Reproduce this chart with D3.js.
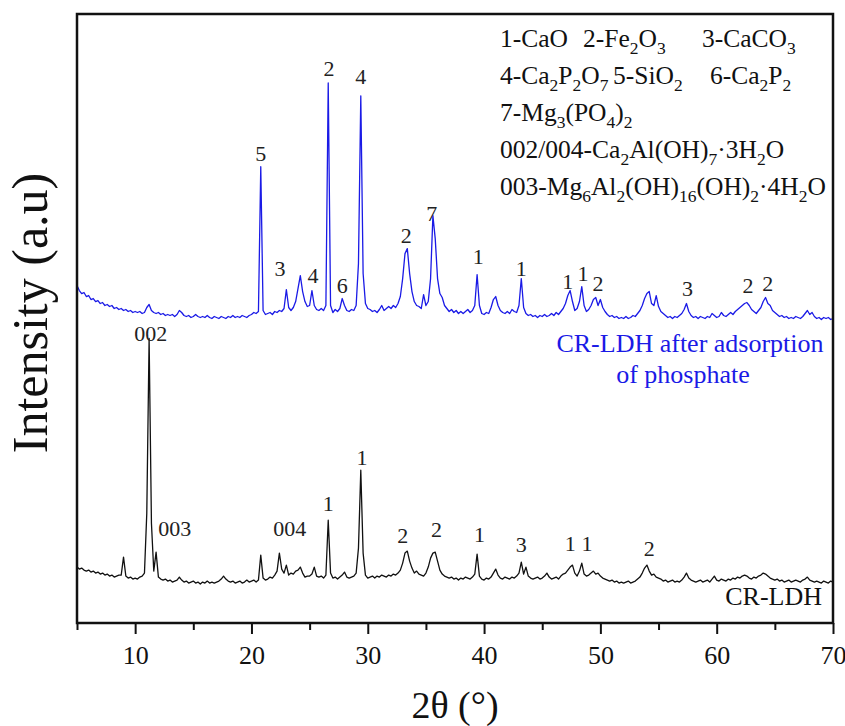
<!DOCTYPE html>
<html><head><meta charset="utf-8">
<script src="https://cdn.jsdelivr.net/npm/d3@7/dist/d3.min.js"></script>
<style>body{margin:0;background:#fff}svg{display:block}</style>
</head><body>
<svg id="chart" width="845" height="726"></svg>
<script>
// ---- data ----
const angleStart = 5;
const angleStep = 0.2;
// CR-LDH after adsorption of phosphate (blue), 5.0 .. 70.0 deg, step 0.2
const blueIntensity = [
338,333,330,331,327,328,324,325,322,323,
320,321,318,319,317,318,315,316,314,315,
313,314,312,313,311,312,311,312,310,311,
316,319,313,311,310,311,309,310,308,309,
308,309,307,309,313,311,308,307,308,306,
307,309,307,306,307,306,308,306,305,307,
306,305,307,306,305,307,306,308,306,307,
306,308,307,306,308,309,311,310,312,457,
313,309,310,311,309,312,311,313,312,315,
334,316,313,316,322,335,348,332,322,317,
318,333,318,314,313,315,313,318,541,318,
311,314,312,315,325,318,313,312,314,313,
318,360,528,350,320,315,314,312,313,311,
314,318,313,315,317,315,318,316,320,327,
345,370,375,350,332,322,318,317,315,329,
318,322,345,408,385,345,330,326,318,315,
312,314,311,313,310,312,310,312,314,311,
313,318,349,318,310,309,311,310,316,324,
327,318,313,311,310,312,310,314,312,311,
318,345,316,310,308,309,307,308,306,308,
307,309,307,308,310,308,311,309,312,315,
320,328,333,322,313,315,322,337,318,312,
314,318,324,326,318,324,316,312,309,307,
308,306,307,305,306,305,307,305,306,308,
307,310,313,318,325,330,332,320,318,328,
317,312,310,308,306,307,305,307,306,308,
310,314,320,312,308,306,307,305,307,306,
305,307,306,310,308,306,307,311,308,307,
309,311,309,312,314,316,318,320,321,318,
314,312,310,313,316,322,326,320,318,313,
311,309,307,308,306,307,305,306,305,307,
306,305,307,310,313,309,311,307,305,306,
304,306,305,306,304,305
];
// CR-LDH (black), 5.0 .. 70.0 deg, step 0.2
const blackIntensity = [
56,54,55,53,52,53,51,52,50,51,
49,50,48,49,47,48,46,47,48,48,
66,47,45,46,44,45,44,46,47,50,
110,285,100,52,71,46,44,43,44,42,
43,41,42,43,46,43,41,42,40,41,
42,40,41,39,41,40,42,40,41,40,
41,42,44,47,44,42,41,42,40,41,
42,40,41,43,41,42,43,41,43,68,
45,43,44,46,45,48,52,70,54,50,
58,48,50,49,52,53,56,50,46,47,
47,49,56,47,46,47,45,48,103,50,
45,46,44,46,48,51,46,45,46,47,
50,75,153,70,48,45,46,47,45,47,
46,48,47,46,48,47,49,48,50,53,
60,70,72,62,55,50,52,49,48,47,
50,56,65,70,71,62,53,49,47,46,
45,46,44,45,43,45,44,46,45,44,
46,49,69,47,44,43,45,44,46,50,
54,48,45,44,46,45,44,46,45,47,
50,61,49,56,47,45,44,45,46,44,
45,47,50,46,44,45,46,44,47,49,
50,53,56,58,50,47,52,60,49,47,
48,50,52,49,50,47,45,44,43,42,
43,41,42,40,41,40,41,42,40,41,
42,44,46,50,55,58,52,48,49,46,
45,44,42,43,41,42,43,41,42,41,
43,46,50,45,43,42,41,42,43,41,
42,43,41,44,47,43,42,44,43,42,
44,43,45,44,46,45,47,48,47,45,
44,46,45,47,48,50,49,47,45,44,
43,44,42,43,41,42,43,41,42,43,
42,41,43,44,46,43,42,41,42,41,
40,42,41,40,42,41
];
// peak labels: [2theta, intensity level of label baseline, text]
const bluePeakLabels = [
  [20.8,463,"5"],[22.45,348,"3"],[25.3,341,"4"],[26.67,548,"2"],[27.8,331,"6"],
  [29.4,540,"4"],[33.3,381,"2"],[35.5,403,"7"],[39.5,360,"1"],[43.2,348,"1"],
  [47.2,335,"1"],[48.5,343,"1"],[49.8,333,"2"],[57.5,328,"3"],[62.7,331,"2"],[64.4,333,"2"]
];
const blackPeakLabels = [
  [11.35,282,"002"],[13.4,87,"003"],[23.3,87,"004"],[26.6,112,"1"],[29.5,158,"1"],
  [33.0,80,"2"],[35.9,86,"2"],[39.6,81,"1"],[43.2,71,"3"],[47.4,72,"1"],
  [48.85,72,"1"],[54.2,67,"2"]
];
const xMajorTicks = [10,20,30,40,50,60,70];
const xMinorTicks = [5,15,25,35,45,55,65];
const legendRows = [
  ["1-CaO","2-Fe_2O_3","3-CaCO_3"],
  ["4-Ca_2P_2O_7","5-SiO_2","6-Ca_2P_2"],
  ["7-Mg_3(PO_4)_2"],
  ["002/004-Ca_2Al(OH)_7·3H_2O"],
  ["003-Mg_6Al_2(OH)_16(OH)_2·4H_2O"]
];
const blueSeriesName = ["CR-LDH after adsorption","of phosphate"];
const blackSeriesName = "CR-LDH";
const xTitle = "2θ (°)";
const yTitle = "Intensity (a.u)";

// ---- drawing ----
const m = {left:77, right:833, top:14, bottom:623};
const svg = d3.select("#chart");
const FONT = "'Liberation Serif','Times New Roman',serif";
const BLUE = "#1a1ae6";

const x = d3.scaleLinear().domain([5,70]).range([m.left, m.right]);
const y = d3.scaleLinear().domain([0,610]).range([m.bottom, m.top]);

const line = d3.line()
  .x((d,i)=>x(angleStart + i*angleStep))
  .y(d=>y(d));

svg.append("path").datum(blackIntensity).attr("d", line)
  .attr("fill","none").attr("stroke","#111").attr("stroke-width",1.3).attr("stroke-linejoin","round");
svg.append("path").datum(blueIntensity).attr("d", line)
  .attr("fill","none").attr("stroke",BLUE).attr("stroke-width",1.3).attr("stroke-linejoin","round");

// frame
svg.append("rect").attr("x",m.left).attr("y",m.top)
  .attr("width",m.right-m.left).attr("height",m.bottom-m.top)
  .attr("fill","none").attr("stroke","#111").attr("stroke-width",2.5);

// x axis
const ax = d3.axisBottom(x).tickValues(xMajorTicks).tickSize(11).tickFormat(d3.format("d"));
const gx = svg.append("g").attr("transform",`translate(0,${m.bottom})`).call(ax);
gx.attr("font-family",null).attr("font-size",null);
gx.select(".domain").remove();
gx.selectAll(".tick line").attr("stroke","#111").attr("stroke-width",2);
gx.selectAll(".tick text").style("font-family",FONT).style("font-size","26px")
  .attr("fill","#111").attr("dy",0).attr("y",41);
const axm = d3.axisBottom(x).tickValues(xMinorTicks).tickSize(7).tickFormat("");
const gxm = svg.append("g").attr("transform",`translate(0,${m.bottom})`).call(axm);
gxm.select(".domain").remove();
gxm.selectAll(".tick text").remove();
gxm.selectAll(".tick line").attr("stroke","#111").attr("stroke-width",2);

// axis titles
svg.append("text").attr("x",(m.left+m.right)/2).attr("y",718).attr("text-anchor","middle")
  .style("font-family",FONT).style("font-size","38px").attr("fill","#111").text(xTitle);
svg.append("text").attr("transform","translate(47,313) rotate(-90)").attr("text-anchor","middle")
  .style("font-family",FONT).style("font-size","50px").attr("fill","#111").text(yTitle);

// peak labels
function peakLabels(arr){
  svg.append("g").selectAll("text").data(arr).join("text")
    .attr("x",d=>x(d[0])).attr("y",d=>y(d[1])).attr("text-anchor","middle")
    .style("font-family",FONT).style("font-size","22px").attr("fill","#222").text(d=>d[2]);
}
peakLabels(bluePeakLabels);
peakLabels(blackPeakLabels);

// series names
svg.append("text").attr("x",690).attr("y",352).attr("text-anchor","middle")
  .style("font-family",FONT).style("font-size","26px").attr("fill",BLUE).text(blueSeriesName[0]);
svg.append("text").attr("x",683).attr("y",383).attr("text-anchor","middle")
  .style("font-family",FONT).style("font-size","26px").attr("fill",BLUE).text(blueSeriesName[1]);
svg.append("text").attr("x",822).attr("y",605).attr("text-anchor","end")
  .style("font-family",FONT).style("font-size","26px").attr("fill","#111").text(blackSeriesName);

// legend with subscripts
function richText(g, str, xx, yy){
  const t = g.append("text").attr("x",xx).attr("y",yy)
    .style("font-family",FONT).style("font-size","25.5px").attr("fill","#111");
  const parts = str.split(/(_\d+)/).filter(s=>s.length);
  let lowered = false;
  parts.forEach(p=>{
    if (p[0]==="_"){
      t.append("tspan").style("font-size","17.5px").attr("dy",lowered?0:7).text(p.slice(1));
      lowered = true;
    } else {
      t.append("tspan").attr("dy",lowered?-7:0).text(p);
      lowered = false;
    }
  });
}
const legendG = svg.append("g");
const rowX = [[500,583,702],[500,613,710],[500],[500],[500]];
const rowY = [47,84,121,158,195];
legendRows.forEach((row,ri)=>{
  row.forEach((item,ci)=> richText(legendG, item, rowX[ri][ci], rowY[ri]));
});
</script>
</body></html>
